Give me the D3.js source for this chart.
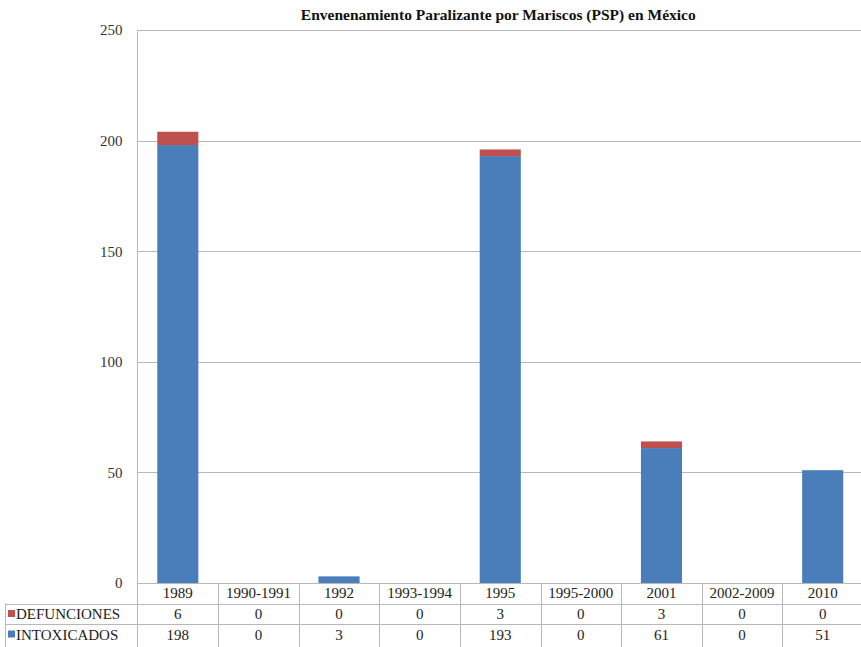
<!DOCTYPE html>
<html>
<head>
<meta charset="utf-8">
<script src="https://cdn.jsdelivr.net/npm/d3@7"></script>
<style>
  html, body { margin: 0; padding: 0; background: #fff; }
  svg { display: block; }
  svg text { font-family: "Liberation Serif", "Tinos", "Times New Roman", "DejaVu Serif", serif; }
</style>
</head>
<body>
<svg id="chart" width="861" height="647"></svg>
<script>
const categories = ["1989", "1990-1991", "1992", "1993-1994", "1995", "1995-2000", "2001", "2002-2009", "2010"];
const intoxicados = [198, 0, 3, 0, 193, 0, 61, 0, 51];
const defunciones = [6, 0, 0, 0, 3, 0, 3, 0, 0];
const yTicks = [0, 50, 100, 150, 200, 250];
const title = "Envenenamiento Paralizante por Mariscos (PSP) en México";
const seriesNames = ["DEFUNCIONES", "INTOXICADOS"];
const colors = { DEFUNCIONES: "#c0504d", INTOXICADOS: "#4a7ebb" };

(function () {
const svg = d3.select("#chart");
const W = 861, H = 647;
const pLeft = 137.5, pRight = 863, pTop = 30, pBottom = 583;
const rowH = 20.5;
const grid = "#b8b8b8";

const x = d3.scaleBand().domain(categories).range([pLeft, pRight]).paddingInner(0).paddingOuter(0);
const y = d3.scaleLinear().domain([0, 250]).range([pBottom, pTop]);

// gridlines
svg.append("g").selectAll("line").data(yTicks).join("line")
  .attr("x1", pLeft).attr("x2", W)
  .attr("y1", d => Math.round(y(d)) + 0.5).attr("y2", d => Math.round(y(d)) + 0.5)
  .attr("stroke", grid).attr("stroke-width", 1);

// y-axis
const yAxis = d3.axisLeft(y).tickValues(yTicks).tickSize(0).tickPadding(15);
const ya = svg.append("g").attr("transform", `translate(${pLeft},0)`).call(yAxis);
ya.attr("font-family", null).attr("font-size", null);
ya.select(".domain").remove();
ya.selectAll("text").style("font-size", "15px").attr("fill", "#333");

// stacked bars
const data = categories.map((c, i) => ({ cat: c, INTOXICADOS: intoxicados[i], DEFUNCIONES: defunciones[i] }));
const stack = d3.stack().keys(["INTOXICADOS", "DEFUNCIONES"])(data);
const bw = x.bandwidth() * 0.51;
svg.append("g").selectAll("g").data(stack).join("g")
  .attr("fill", d => colors[d.key])
  .selectAll("rect").data(d => d).join("rect")
  .attr("x", d => x(d.data.cat) + (x.bandwidth() - bw) / 2)
  .attr("width", bw)
  .attr("y", d => y(d[1]))
  .attr("height", d => y(d[0]) - y(d[1]));

// left axis line down through table
svg.append("line").attr("x1", pLeft).attr("x2", pLeft).attr("y1", pTop).attr("y2", H)
  .attr("stroke", grid);

// x-axis baseline
svg.append("line").attr("x1", pLeft).attr("x2", W).attr("y1", pBottom + 0.5).attr("y2", pBottom + 0.5)
  .attr("stroke", grid);

// data table
const r1 = pBottom + rowH, r2 = pBottom + 2 * rowH;
[r1, r2].forEach(yy => {
  svg.append("line").attr("x1", 5).attr("x2", W).attr("y1", Math.round(yy) + 0.5).attr("y2", Math.round(yy) + 0.5)
    .attr("stroke", grid);
});
svg.append("line").attr("x1", 5.5).attr("x2", 5.5).attr("y1", r1).attr("y2", H).attr("stroke", grid);
svg.append("g").selectAll("line").data(categories.slice(1)).join("line")
  .attr("x1", d => Math.round(x(d)) + 0.5).attr("x2", d => Math.round(x(d)) + 0.5)
  .attr("y1", pBottom).attr("y2", H).attr("stroke", grid);

const center = d => x(d) + x.bandwidth() / 2;
svg.append("g").selectAll("text").data(categories).join("text")
  .attr("x", center).attr("y", pBottom + 15)
  .attr("text-anchor", "middle").style("font-size", "15px").attr("fill", "#222")
  .text(d => d);

const rows = [defunciones, intoxicados];
seriesNames.forEach((name, ri) => {
  const ty = pBottom + rowH * (ri + 1) + 15.5;
  svg.append("rect").attr("x", 8).attr("y", ty - 9).attr("width", 7).attr("height", 7).attr("fill", colors[name]);
  svg.append("text").attr("x", 16).attr("y", ty).style("font-size", "15px")
    .attr("fill", "#222").text(name);
  svg.append("g").selectAll("text").data(categories).join("text")
    .attr("x", center).attr("y", ty)
    .attr("text-anchor", "middle").style("font-size", "15px").attr("fill", "#222")
    .text((d, i) => rows[ri][i]);
});

// title
svg.append("text").attr("x", (pLeft + pRight) / 2 - 2).attr("y", 20)
  .attr("text-anchor", "middle").style("font-weight", "bold")
  .style("font-size", "15.5px").attr("fill", "#111").text(title);
})();
</script>
</body>
</html>
